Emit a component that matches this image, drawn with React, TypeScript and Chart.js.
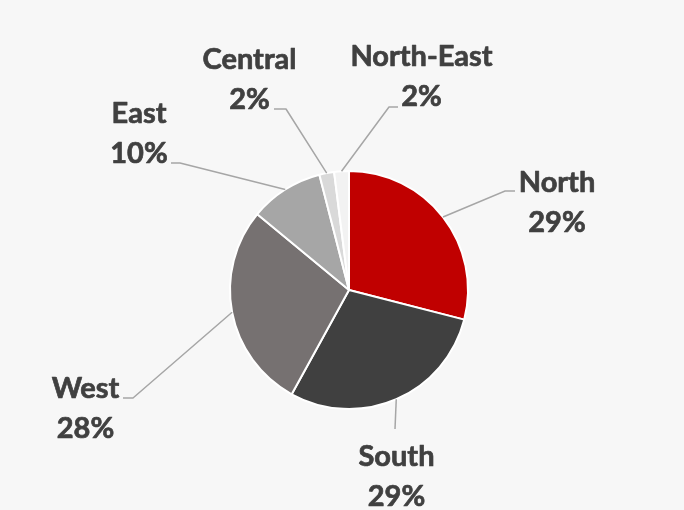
import React, { useEffect, useRef } from "react";
import { Chart, registerables } from "chart.js";

Chart.register(...registerables);

const categories = ["North", "South", "West", "East", "Central", "North-East"];
const shares = [29, 29, 28, 10, 2, 2];
const percentLabels = ["29%", "29%", "28%", "10%", "2%", "2%"];

const sliceColors = ["#c00000", "#404040", "#767171", "#a6a6a6", "#d9d9d9", "#f2f2f2"];

// label layout relative to pie centre: text centre x, first baseline y, leader elbow and end
const labelLayout = [
  { dx: 208, dy: -98, elbow: [156, -99], end: [166, -99] },
  { dx: 47.5, dy: 176, elbow: [46, 139], end: [46, 139] },
  { dx: -263.5, dy: 108, elbow: [-216, 108], end: [-226, 108] },
  { dx: -210, dy: -167, elbow: [-169, -127], end: [-178, -127] },
  { dx: -99.5, dy: -221, elbow: [-63, -181], end: [-75, -181] },
  { dx: 72.5, dy: -224, elbow: [40, -183], end: [49, -183] },
];

const leaderPlugin = {
  id: "leaders",
  afterDatasetsDraw(chart: any) {
    const ctx = chart.ctx;
    const meta = chart.getDatasetMeta(0);
    ctx.save();
    meta.data.forEach((arc: any, i: number) => {
      const p = arc.getProps(["x", "y", "startAngle", "endAngle", "outerRadius"], true);
      const mid = (p.startAngle + p.endAngle) / 2;
      const ax = p.x + Math.cos(mid) * p.outerRadius;
      const ay = p.y + Math.sin(mid) * p.outerRadius;
      const L = labelLayout[i];
      ctx.strokeStyle = "#a6a6a6";
      ctx.lineWidth = 1.5;
      ctx.beginPath();
      ctx.moveTo(ax, ay);
      ctx.lineTo(p.x + L.elbow[0], p.y + L.elbow[1]);
      ctx.lineTo(p.x + L.end[0], p.y + L.end[1]);
      ctx.stroke();
      ctx.fillStyle = "#404040";
      ctx.strokeStyle = "#404040";
      ctx.lineWidth = 0.7;
      ctx.lineJoin = "round";
      ctx.font = "bold 29px Lato";
      ctx.textAlign = "center";
      ctx.textBaseline = "alphabetic";
      const t1 = chart.data.labels[i];
      const t2 = percentLabels[i];
      ctx.fillText(t1, p.x + L.dx, p.y + L.dy);
      ctx.strokeText(t1, p.x + L.dx, p.y + L.dy);
      ctx.fillText(t2, p.x + L.dx, p.y + L.dy + 40);
      ctx.strokeText(t2, p.x + L.dx, p.y + L.dy + 40);
    });
    ctx.restore();
  },
};

export default function App() {
  const ref = useRef<HTMLCanvasElement | null>(null);
  useEffect(() => {
    if (!ref.current) return;
    const chart = new Chart(ref.current, {
      type: "pie",
      data: {
        labels: categories,
        datasets: [
          {
            data: shares,
            backgroundColor: sliceColors,
            borderColor: "#ffffff",
            borderWidth: 2,
          },
        ],
      },
      options: {
        responsive: true,
        maintainAspectRatio: false,
        animation: false,
        layout: { padding: { top: 170, bottom: 100, left: 229, right: 215 } },
        plugins: {
          legend: { display: false },
          tooltip: { enabled: false },
        },
      },
      plugins: [leaderPlugin],
    });
    return () => chart.destroy();
  }, []);
  return (
    <div
      style={{
        position: "fixed",
        left: 0,
        top: 0,
        width: 684,
        height: 510,
        background: "#f7f7f7",
      }}
    >
      <canvas ref={ref} />
    </div>
  );
}
